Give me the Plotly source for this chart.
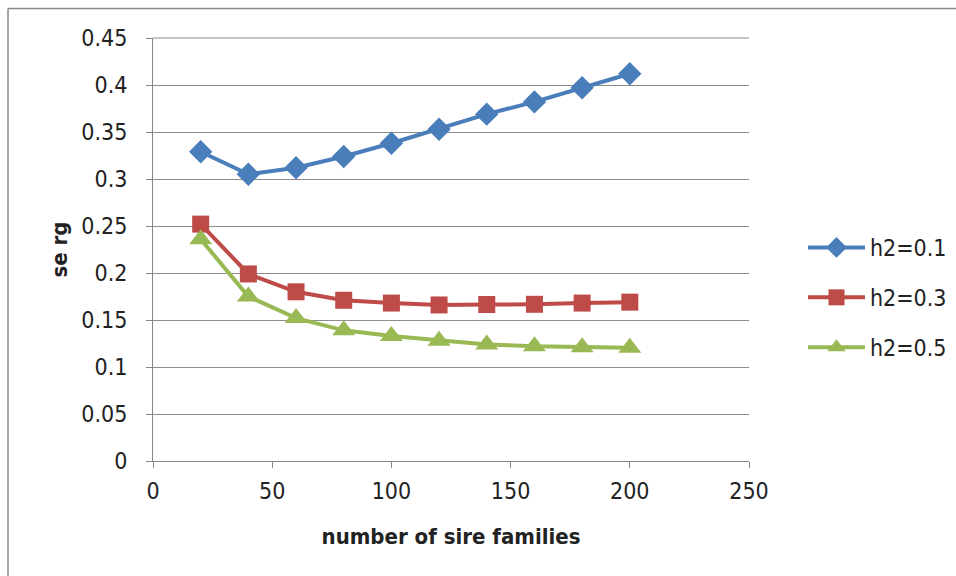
import plotly.graph_objects as go

families = [20, 40, 60, 80, 100, 120, 140, 160, 180, 200]
h2_01 = [0.329, 0.305, 0.312, 0.324, 0.338, 0.353, 0.369, 0.382, 0.397, 0.412]
h2_03 = [0.252, 0.199, 0.180, 0.171, 0.168, 0.166, 0.1665, 0.1667, 0.168, 0.169]
h2_05 = [0.236, 0.175, 0.152, 0.139, 0.133, 0.128, 0.124, 0.122, 0.121, 0.1205]
series_names = ["h2=0.1", "h2=0.3", "h2=0.5"]
colors = ["#4a7ebb", "#be4b48", "#98b954"]
symbols = ["diamond", "square", "triangle-up"]
sizes = [18, 17, 20]
x_ticks = [0, 50, 100, 150, 200, 250]
y_ticks = [0, 0.05, 0.1, 0.15, 0.2, 0.25, 0.3, 0.35, 0.4, 0.45]
y_tick_labels = ["0", "0.05", "0.1", "0.15", "0.2", "0.25", "0.3", "0.35", "0.4", "0.45"]

FONT = "DejaVu Sans Condensed, Roboto, sans-serif"

fig = go.Figure()
for i, (name, vals) in enumerate(zip(series_names, [h2_01, h2_03, h2_05])):
    fig.add_trace(go.Scatter(
        x=families, y=vals, name=name, mode="lines+markers",
        line=dict(color=colors[i], width=4),
        marker=dict(symbol=symbols[i], size=sizes[i], color=colors[i]),
        legendgroup=name,
    ))

W, H = 956, 576
L, R, T, B = 153, 207, 38, 115
pw, ph = W - L - R, H - T - B

fig.update_layout(
    width=W, height=H,
    margin=dict(l=L, r=R, t=T, b=B, autoexpand=False),
    paper_bgcolor="white", plot_bgcolor="white",
    font=dict(family=FONT, size=22, color="#222"),
    showlegend=True,
    legend=dict(x=(803 - L) / pw, y=(461 - 226) / ph, xanchor="left", yanchor="top",
                font=dict(size=23, color="#222"), tracegroupgap=17,
                bgcolor="rgba(0,0,0,0)", itemwidth=57),
    xaxis=dict(range=[0, 250], tickvals=x_ticks, ticks="outside", ticklen=6,
               tickcolor="#868686", showline=True, linecolor="#868686", linewidth=1,
               showgrid=False, zeroline=False, tickfont=dict(size=23), ticklabelstandoff=3,
               title=dict(text="<b>number of sire families</b>", font=dict(size=22), standoff=26)),
    yaxis=dict(range=[0, 0.45], tickvals=y_ticks, ticktext=y_tick_labels, ticks="outside",
               ticklen=6, tickcolor="#868686", showline=True, linecolor="#868686", linewidth=1,
               showgrid=True, gridcolor="#8c8c8c", gridwidth=1, zeroline=False,
               tickfont=dict(size=23), ticklabelstandoff=14,
               title=dict(text="<b>se rg</b>", font=dict(size=22), standoff=7)),
    shapes=[
        dict(type="line", xref="paper", yref="paper", x0=(8 - L) / pw, x1=(W - L) / pw,
             y0=(461 - 8.5) / ph, y1=(461 - 8.5) / ph, line=dict(color="#8a8a8a", width=1.5)),
        dict(type="line", xref="paper", yref="paper", x0=(8 - L) / pw, x1=(8 - L) / pw,
             y0=(461 - 8.5) / ph, y1=(461 - H) / ph, line=dict(color="#8a8a8a", width=1.5)),
        dict(type="line", xref="paper", yref="paper", x0=0, x1=1, y0=1, y1=1,
             line=dict(color="#8c8c8c", width=1)),
    ],
)

fig.write_html("out.html", config={"displayModeBar": False},
               post_script="document.body.style.margin='0px';document.body.style.overflow='hidden';")
